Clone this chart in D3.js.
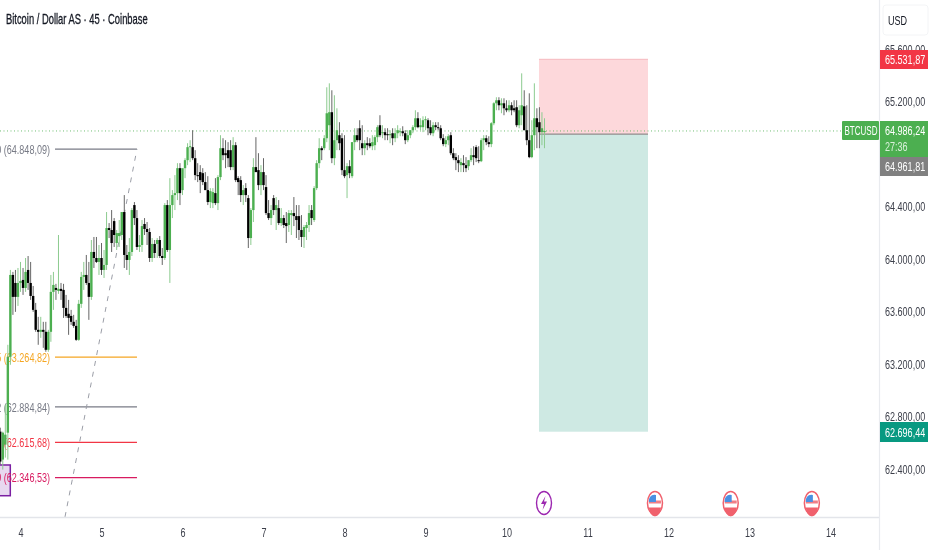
<!DOCTYPE html>
<html>
<head>
<meta charset="utf-8">
<script src="https://cdn.jsdelivr.net/npm/d3@7"></script>
<style>
  html, body { margin: 0; padding: 0; background: #fff; overflow: hidden; }
  svg { display: block; filter: blur(0.35px); }
  text { font-family: "Liberation Sans", sans-serif; }
</style>
</head>
<body>
<div id="chart"></div>
<script>
// 45 minute candles
const opens = [
  62697,62484,62598,62689,63267,63890,63829,63723,63829,63852,
  63791,63928,63829,63730,63624,63472,63457,63472,63457,63320,
  63457,63761,63791,63768,63784,63776,63639,63594,63578,63533,
  63502,63396,63670,63875,63890,63829,63723,64065,64019,63989,
  64019,63928,63966,64247,64232,64300,64133,64186,64194,64369,
  64042,64004,64065,64422,64323,64103,64118,64278,64240,64217,
  64019,64126,64126,64156,64034,64019,64422,64080,64422,64498,64513,
  64703,64536,64703,64764,64863,64863,64779,64650,64673,64665,
  64597,64536,64445,64437,64513,64437,64635,64855,64817,64840,
  64840,64711,64878,64627,64612,64498,64551,64475,64171,64384,
  64711,64688,64574,64673,64559,64361,64323,64475,64384,64399,
  64285,64323,64285,64270,64346,64361,64338,64338,64232,64179,
  64247,64270,64384,64308,64551,64741,64855,64855,64931,65030,
  65129,64779,64916,64954,64931,64688,64650,64718,64642,64901,
  64954,65007,64893,64855,64893,64893,64870,64878,64939,65030,
  64969,64977,64962,64954,64969,64931,64969,64977,64984,64969,
  64916,64954,64992,65015,65083,65015,65015,65068,65068,65015,
  64969,65030,65015,65007,64931,64886,64916,64954,64817,64787,
  64764,64726,64741,64726,64718,64764,64802,64863,64764,64756,
  64916,64931,64901,64886,65045,65197,65220,65182,65197,65159,
  65144,65182,65159,65167,65030,65106,65174,64992,64916,64787,
  64954,65083,65053,64977,64977
];
const highs = [
  62727,62697,62902,63358,63928,63913,63928,63943,63989,63943,
  64019,64034,63989,63806,63677,63571,63571,63533,63533,63472,
  63890,63913,63822,64194,63829,63822,63738,63700,63624,63586,
  63548,63700,63913,63989,64042,63989,64156,64179,64179,64118,
  64133,64080,64369,64285,64384,64323,64232,64308,64369,64498,
  64118,64171,64399,64445,64384,64194,64308,64323,64293,64247,
  64171,64156,64171,64186,64095,64437,64460,64627,64536,64650,64741,
  64741,64627,64779,64893,64916,64992,64840,64741,64726,64703,
  64673,64642,64551,64551,64627,64650,64954,64931,64916,64901,
  64916,64939,64901,64642,64642,64574,64589,64498,64399,64779,
  64939,64817,64726,64779,64650,64460,64422,64498,64483,64460,
  64399,64346,64369,64384,64384,64483,64422,64422,64346,64270,
  64293,64422,64422,64566,64764,64931,64870,64954,65319,65349,
  65296,65258,65159,65053,64969,64954,64741,64764,64901,65007,
  65007,65068,65030,64916,64939,64931,64954,64954,65030,65106,
  65030,65007,65007,64992,65007,65007,65030,65007,65022,64992,
  64992,64992,65030,65144,65129,65083,65098,65098,65083,65068,
  65053,65053,65053,65030,64962,64946,64962,64977,64855,64817,
  64802,64779,64802,64787,64764,64855,64870,64878,64870,64931,
  64954,64954,64946,65053,65205,65243,65243,65235,65235,65220,
  65220,65205,65220,65220,65182,65425,65296,65182,65273,65068,
  65349,65159,65167,65129,65083
];
const lows = [
  62446,62408,62499,62484,63206,63586,63609,63654,63761,63738,
  63761,63776,63700,63609,63457,63358,63411,63335,63305,63305,
  63381,63624,63700,63746,63700,63563,63563,63434,63510,63487,
  63388,63388,63639,63776,63814,63548,63700,63943,63981,63890,
  63890,63867,63928,64171,64065,64103,64080,64103,64156,63943,
  63928,63890,64034,64270,64080,64065,64065,64194,64118,63989,
  63989,64019,64019,64019,63966,64004,64065,63829,64323,64384,64460,
  64422,64498,64627,64726,64749,64764,64612,64597,64513,64574,
  64536,64422,64399,64399,64422,64384,64612,64764,64703,64711,
  64688,64688,64597,64498,64445,64422,64445,64095,64118,64293,
  64673,64536,64498,64536,64346,64308,64270,64346,64232,64270,
  64262,64247,64133,64217,64194,64262,64171,64156,64103,64095,
  64156,64217,64270,64293,64536,64703,64764,64840,64901,64840,
  64741,64726,64840,64840,64650,64627,64475,64627,64627,64840,
  64901,64840,64802,64802,64840,64855,64840,64840,64901,64939,
  64931,64916,64916,64893,64878,64901,64931,64946,64946,64886,
  64901,64931,64969,64992,65007,64992,64977,64992,64954,64954,
  64946,64992,64992,64916,64870,64863,64878,64802,64764,64688,
  64673,64673,64673,64673,64688,64749,64726,64749,64741,64749,
  64840,64878,64863,64863,65030,65144,65144,65121,65106,65129,
  65129,65106,65129,65015,65007,65030,64992,64878,64779,64779,
  64840,64855,64855,64878,64855
];
const closes = [
  62469,62689,62674,63267,63890,63723,63723,63829,63844,63791,
  63913,63829,63730,63624,63472,63457,63472,63457,63320,63457,
  63761,63814,63776,63784,63768,63639,63578,63563,63533,63502,
  63396,63670,63875,63890,63829,63723,64065,64019,63989,64019,
  63928,63966,64247,64232,64133,64194,64209,64209,64369,64042,
  64004,64065,64384,64323,64103,64118,64262,64240,64217,64019,
  64126,64057,64156,64034,64019,64422,64080,64422,64498,64513,64703,
  64513,64703,64764,64863,64870,64779,64650,64642,64612,64597,
  64536,64445,64528,64521,64437,64635,64855,64802,64802,64779,
  64711,64878,64612,64597,64498,64536,64498,64171,64384,64711,
  64673,64574,64673,64574,64361,64323,64384,64384,64422,64285,
  64323,64270,64262,64361,64361,64338,64308,64232,64179,64255,
  64270,64361,64323,64551,64741,64855,64840,64931,65121,65129,
  64779,64916,64992,64893,64688,64642,64718,64665,64901,64954,
  64916,64916,64855,64893,64878,64870,64901,64939,65015,64954,
  64977,64954,64954,64962,64931,64969,64992,64984,64969,64916,
  64954,64992,65015,65083,65015,65030,65068,65076,65007,64969,
  65030,65015,65007,64931,64886,64916,64946,64817,64779,64764,
  64741,64749,64726,64703,64764,64802,64787,64779,64756,64916,
  64931,64901,64886,65045,65197,65220,65182,65197,65159,65144,
  65182,65144,65144,65030,65144,65182,64992,64916,64787,64954,
  65083,65015,64977,65007,64986.24
];
const firstDay = 3.75, candlesPerDay = 32;

const dayTicks = [4, 5, 6, 7, 8, 9, 10, 11, 12, 13, 14];
// 64.800,00 sits behind the price tags in the picture, so it is left out
const priceTicks = [65600, 65200, 64400, 64000, 63600, 63200, 62800, 62400];

const lastPrice = 64986.24, entryPrice = 64961.81, stopPrice = 65531.87, targetPrice = 62696.44;
const countdown = "27:36";
const boxDays = [10.401, 11.747];

const fibPrices = [64848.09, 63264.82, 62884.84, 62615.68, 62346.53];
const fibLabels = ["0 (64.848,09)", "5 (63.264,82)", "2 (62.884,84)", "(62.615,68)", "9 (62.346,53)"];
const fibColors = ["#787b86", "#f5a623", "#787b86", "#f23645", "#d81b60"];
const fibDays = [4.426, 5.438];
const trendDays = [4.549, 5.438], trendPrices = [62047, 64848.09];

const anchorDays = [3.72, 3.874], anchorPrices = [62443, 62209];

const flagDays = [11.833, 12.768, 13.77];
const boltDays = [10.463];

const W = 932, H = 550, plotRight = 879, plotBottom = 517;

const svg = d3.select("#chart").append("svg").attr("width", W).attr("height", H);

// one day is 81 px, 4 sits at 20.5
const x = d3.scaleLinear().domain([4, 14]).range([20.5, 830.5]);
// the two label prices of the position tool pin the vertical scale
const y = d3.scaleLinear().domain([stopPrice, targetPrice]).range([59.3, 431.7]);

const locale = d3.formatLocale({decimal: ",", thousands: ".", grouping: [3], currency: ["", ""]});
const priceFmt = locale.format(",.2f");

const candles = opens.map((o, i) => ({
  t: firstDay + i / candlesPerDay, o, h: highs[i], l: lows[i], c: closes[i]
}));

svg.append("defs").append("clipPath").attr("id", "plot")
  .append("rect").attr("width", plotRight).attr("height", plotBottom);

const plot = svg.append("g").attr("clip-path", "url(#plot)");

// position tool
plot.append("rect").attr("x", x(boxDays[0])).attr("width", x(boxDays[1]) - x(boxDays[0]))
  .attr("y", y(stopPrice)).attr("height", y(entryPrice) - y(stopPrice)).attr("fill", "#fdd8db");
plot.append("rect").attr("x", x(boxDays[0])).attr("width", x(boxDays[1]) - x(boxDays[0]))
  .attr("y", y(entryPrice)).attr("height", y(targetPrice) - y(entryPrice)).attr("fill", "#cee9e3");
plot.append("line").attr("x1", x(boxDays[0])).attr("x2", x(boxDays[1]))
  .attr("y1", y(stopPrice)).attr("y2", y(stopPrice)).attr("stroke", "#f7b9be");
plot.append("line").attr("x1", x(boxDays[0])).attr("x2", x(boxDays[1]))
  .attr("y1", y(entryPrice)).attr("y2", y(entryPrice)).attr("stroke", "#8f8b8b").attr("stroke-width", 1.2);

// purple anchor box
plot.append("rect").attr("x", x(anchorDays[0])).attr("width", x(anchorDays[1]) - x(anchorDays[0]))
  .attr("y", y(anchorPrices[0])).attr("height", y(anchorPrices[1]) - y(anchorPrices[0]))
  .attr("fill", "#e8d8f0").attr("stroke", "#7b1fa2").attr("stroke-width", 1.5);

// fib levels and the dashed trend line
plot.selectAll(".fib").data(fibPrices).enter().append("line").attr("class", "fib")
  .attr("x1", x(fibDays[0])).attr("x2", x(fibDays[1]))
  .attr("y1", d => y(d)).attr("y2", d => y(d))
  .attr("stroke", (d, i) => fibColors[i]).attr("stroke-width", 1.3);
plot.selectAll(".fib-label").data(fibPrices).enter().append("text").attr("class", "fib-label")
  .attr("x", 50).attr("y", d => y(d)).attr("dy", "0.34em").attr("text-anchor", "end")
  .attr("font-size", 13.5).attr("fill", (d, i) => fibColors[i]).text((d, i) => fibLabels[i]);
plot.append("line")
  .attr("x1", x(trendDays[0])).attr("y1", y(trendPrices[0]))
  .attr("x2", x(trendDays[1])).attr("y2", y(trendPrices[1]))
  .attr("stroke", "#9a9da6").attr("stroke-dasharray", "5,6");

// last price line
plot.append("line").attr("x1", 0).attr("x2", 842).attr("y1", y(lastPrice)).attr("y2", y(lastPrice))
  .attr("stroke", "#4caf50").attr("stroke-opacity", 0.8).attr("stroke-dasharray", "1,2.5");

// candles
const isUp = d => d.c >= d.o;
const candle = plot.selectAll(".candle").data(candles).enter().append("g").attr("class", "candle");
candle.append("line")
  .attr("x1", d => x(d.t)).attr("x2", d => x(d.t))
  .attr("y1", d => y(d.h)).attr("y2", d => y(d.l))
  .attr("stroke", d => isUp(d) ? "#8ccb8f" : "#666");
candle.append("rect")
  .attr("x", d => x(d.t) - 1.2).attr("width", 2.4)
  .attr("y", d => y(Math.max(d.o, d.c)))
  .attr("height", d => Math.max(1, Math.abs(y(d.o) - y(d.c))))
  .attr("fill", d => isUp(d) ? "#4caf50" : "#000");

// event markers
const eventY = 503;
const bolt = plot.selectAll(".bolt").data(boltDays).enter().append("g").attr("class", "bolt")
  .attr("transform", d => `translate(${x(d)},${eventY})`);
bolt.append("ellipse").attr("rx", 7.5).attr("ry", 11.5).attr("fill", "#fff").attr("stroke", "#9c27b0").attr("stroke-width", 1.4);
bolt.append("path").attr("d", "M1.5,-7 L-3,1 L0,1 L-1.5,7 L3,-1.5 L0,-1.5 Z").attr("fill", "#9c27b0");

const flag = plot.selectAll(".flag").data(flagDays).enter().append("g").attr("class", "flag")
  .attr("transform", d => `translate(${x(d)},${eventY})`);
flag.append("ellipse").attr("rx", 7.5).attr("ry", 11.5).attr("fill", "#fff").attr("stroke", "#f0616d").attr("stroke-width", 1.5);
flag.append("path").attr("d", "M-6,3 H6 A6,9 0 0 1 -6,3 Z").attr("fill", "#f0616d").attr("transform", "translate(0,1.5)");
flag.append("rect").attr("x", -6).attr("y", -2.5).attr("width", 12).attr("height", 3).attr("fill", "#ef7f87");
flag.append("path").attr("d", "M-6,-1 V-4 A6,8 0 0 1 1,-8 V-1 Z").attr("fill", "#4a90e2");

// axes
const xAxis = d3.axisBottom(x).tickValues(dayTicks).tickFormat(d3.format("d")).tickSize(0).tickPadding(10);
const xG = svg.append("g").attr("transform", `translate(0,${plotBottom})`).call(xAxis);
xG.select(".domain").remove();
xG.selectAll("text").attr("font-size", 13.5).attr("fill", "#3c3f4a")
  .style("font-family", '"Liberation Sans", sans-serif');

const yAxis = d3.axisRight(y).tickValues(priceTicks).tickFormat(priceFmt).tickSize(0).tickPadding(0);
const yG = svg.append("g").attr("transform", "translate(885,-1.6)").call(yAxis);
yG.select(".domain").remove();
yG.selectAll("text").attr("font-size", 13.5).attr("fill", "#3c3f4a")
  .style("font-family", '"Liberation Sans", sans-serif');

svg.append("line").attr("x1", 0).attr("x2", plotRight).attr("y1", plotBottom + 0.5).attr("y2", plotBottom + 0.5)
  .attr("stroke", "#e3e5ea").attr("stroke-width", 1.4);
svg.append("line").attr("x1", plotRight + 0.5).attr("x2", plotRight + 0.5).attr("y1", 0).attr("y2", H)
  .attr("stroke", "#e9ebef").attr("stroke-width", 1.2);

// price tags on the axis
function tag(top, bottom, left, fill) {
  svg.append("rect").attr("x", left).attr("y", top).attr("width", 928 - left).attr("height", bottom - top).attr("fill", fill);
}
function tagText(px, py, str, fill, size) {
  return svg.append("text").attr("x", px).attr("y", py).attr("dy", "0.34em")
    .attr("font-size", size || 13.5).attr("fill", fill).text(str);
}
tag(50, 69, 880, "#f23645");
tagText(885, 59.5, priceFmt(stopPrice), "#fff");
tag(121, 157, 880, "#4caf50");
tagText(885, 130, priceFmt(lastPrice), "#fff");
tagText(885, 146, countdown, "#d9f0da");
tag(157, 176, 880, "#808080");
tagText(885, 166, priceFmt(entryPrice), "#fff");
tag(422, 442, 880, "#089981");
tagText(885, 432, priceFmt(targetPrice), "#fff");
svg.append("rect").attr("x", 842).attr("y", 121).attr("width", 37).attr("height", 19).attr("rx", 1).attr("fill", "#4caf50");
tagText(844.5, 130.5, "BTCUSD", "#fff", 12);

// currency button
svg.append("rect").attr("x", 883).attr("y", 5).attr("width", 45).attr("height", 30).attr("rx", 3)
  .attr("fill", "#fff").attr("stroke", "#f3f4f6");
tagText(888, 20, "USD", "#131722");

// title
svg.append("text").attr("x", 6).attr("y", 19).attr("dy", "0.34em")
  .attr("font-size", 14).attr("fill", "#131722").attr("stroke", "#131722").attr("stroke-width", 0.3)
  .text("Bitcoin / Dollar AS · 45 · Coinbase");

// the picture is squeezed sideways, so every text is too
svg.selectAll("text").each(function () {
  const px = +this.getAttribute("x") || 0;
  d3.select(this).attr("transform", `translate(${px},0) scale(0.67,1) translate(${-px},0)`);
});
</script>
</body>
</html>
